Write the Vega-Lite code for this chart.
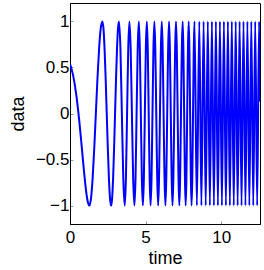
{
  "$schema": "https://vega.github.io/schema/vega-lite/v6.json",
  "autosize": {"type": "none"},
  "padding": {"left": 70, "top": 3, "right": 4, "bottom": 46},
  "width": 190,
  "height": 221,
  "background": "white",
  "config": {
    "view": {"stroke": "black", "strokeWidth": 1},
    "axis": {
      "grid": false,
      "labelFont": "Liberation Sans",
      "titleFont": "Liberation Sans",
      "labelFontSize": 17,
      "titleFontSize": 18,
      "titleFontWeight": "normal",
      "labelColor": "black",
      "titleColor": "black",
      "domainColor": "black",
      "tickColor": "#999999",
      "tickSize": -3,
      "labelFlush": false
    }
  },
  "data": {"values": [
    {"time": 0, "data": 0.54},
    {"time": 0.2, "data": 0.419},
    {"time": 0.4, "data": 0.222},
    {"time": 0.6, "data": -0.059},
    {"time": 0.8, "data": -0.403},
    {"time": 0.95, "data": -0.668},
    {"time": 1.1, "data": -0.885},
    {"time": 1.2, "data": -0.975},
    {"time": 1.28, "data": -1},
    {"time": 1.3875, "data": -0.924},
    {"time": 1.495, "data": -0.707},
    {"time": 1.6025, "data": -0.383},
    {"time": 1.71, "data": 0},
    {"time": 1.8175, "data": 0.383},
    {"time": 1.925, "data": 0.707},
    {"time": 2.0325, "data": 0.924},
    {"time": 2.14, "data": 1},
    {"time": 2.2125, "data": 0.924},
    {"time": 2.285, "data": 0.707},
    {"time": 2.3575, "data": 0.383},
    {"time": 2.43, "data": 0},
    {"time": 2.5025, "data": -0.383},
    {"time": 2.575, "data": -0.707},
    {"time": 2.6475, "data": -0.924},
    {"time": 2.72, "data": -1},
    {"time": 2.785, "data": -0.924},
    {"time": 2.85, "data": -0.707},
    {"time": 2.915, "data": -0.383},
    {"time": 2.98, "data": 0},
    {"time": 3.045, "data": 0.383},
    {"time": 3.11, "data": 0.707},
    {"time": 3.175, "data": 0.924},
    {"time": 3.24, "data": 1},
    {"time": 3.335, "data": 0.707},
    {"time": 3.43, "data": 0},
    {"time": 3.525, "data": -0.707},
    {"time": 3.62, "data": -1},
    {"time": 3.6975, "data": -0.707},
    {"time": 3.775, "data": 0},
    {"time": 3.8525, "data": 0.707},
    {"time": 3.93, "data": 1},
    {"time": 4.0125, "data": 0.707},
    {"time": 4.095, "data": 0},
    {"time": 4.1775, "data": -0.707},
    {"time": 4.26, "data": -1},
    {"time": 4.3325, "data": -0.707},
    {"time": 4.405, "data": 0},
    {"time": 4.4775, "data": 0.707},
    {"time": 4.55, "data": 1},
    {"time": 4.6175, "data": 0.707},
    {"time": 4.685, "data": 0},
    {"time": 4.7525, "data": -0.707},
    {"time": 4.82, "data": -1},
    {"time": 4.885, "data": -0.707},
    {"time": 4.95, "data": 0},
    {"time": 5.015, "data": 0.707},
    {"time": 5.08, "data": 1},
    {"time": 5.1425, "data": 0.707},
    {"time": 5.205, "data": 0},
    {"time": 5.2675, "data": -0.707},
    {"time": 5.33, "data": -1},
    {"time": 5.3925, "data": -0.707},
    {"time": 5.455, "data": 0},
    {"time": 5.5175, "data": 0.707},
    {"time": 5.58, "data": 1},
    {"time": 5.83, "data": -1},
    {"time": 6.07, "data": 1},
    {"time": 6.31, "data": -1},
    {"time": 6.55, "data": 1},
    {"time": 6.78, "data": -1},
    {"time": 7.01, "data": 1},
    {"time": 7.23, "data": -1},
    {"time": 7.45, "data": 1},
    {"time": 7.65, "data": -1},
    {"time": 7.85, "data": 1},
    {"time": 8.04, "data": -1},
    {"time": 8.234, "data": 1},
    {"time": 8.39, "data": -1},
    {"time": 8.552, "data": 1},
    {"time": 8.69, "data": -1},
    {"time": 8.836, "data": 1},
    {"time": 8.975, "data": -1},
    {"time": 9.114, "data": 1},
    {"time": 9.25, "data": -1},
    {"time": 9.385, "data": 1},
    {"time": 9.517, "data": -1},
    {"time": 9.649, "data": 1},
    {"time": 9.782, "data": -1},
    {"time": 9.914, "data": 1},
    {"time": 10.046, "data": -1},
    {"time": 10.178, "data": 1},
    {"time": 10.31, "data": -1},
    {"time": 10.443, "data": 1},
    {"time": 10.572, "data": -1},
    {"time": 10.701, "data": 1},
    {"time": 10.83, "data": -1},
    {"time": 10.959, "data": 1},
    {"time": 11.088, "data": -1},
    {"time": 11.217, "data": 1},
    {"time": 11.346, "data": -1},
    {"time": 11.475, "data": 1},
    {"time": 11.604, "data": -1},
    {"time": 11.733, "data": 1},
    {"time": 11.862, "data": -1},
    {"time": 11.991, "data": 1},
    {"time": 12.12, "data": -1},
    {"time": 12.249, "data": 1},
    {"time": 12.378, "data": -1},
    {"time": 12.507, "data": 1},
    {"time": 12.566, "data": 0.13}
  ]},
  "mark": {"type": "line", "color": "#0000ff", "strokeWidth": 2, "interpolate": "monotone", "strokeJoin": "round", "clip": true},
  "encoding": {
    "x": {
      "field": "time", "type": "quantitative",
      "scale": {"domain": [0, 12.566], "nice": false, "zero": false},
      "axis": {"title": "time", "values": [0, 5, 10], "labelPadding": 8, "titlePadding": 4}
    },
    "y": {
      "field": "data", "type": "quantitative",
      "scale": {"domain": [-1.2, 1.2], "nice": false},
      "axis": {"title": "data", "values": [-1, -0.5, 0, 0.5, 1], "format": "~g", "labelPadding": 4, "titlePadding": 8}
    }
  }
}
